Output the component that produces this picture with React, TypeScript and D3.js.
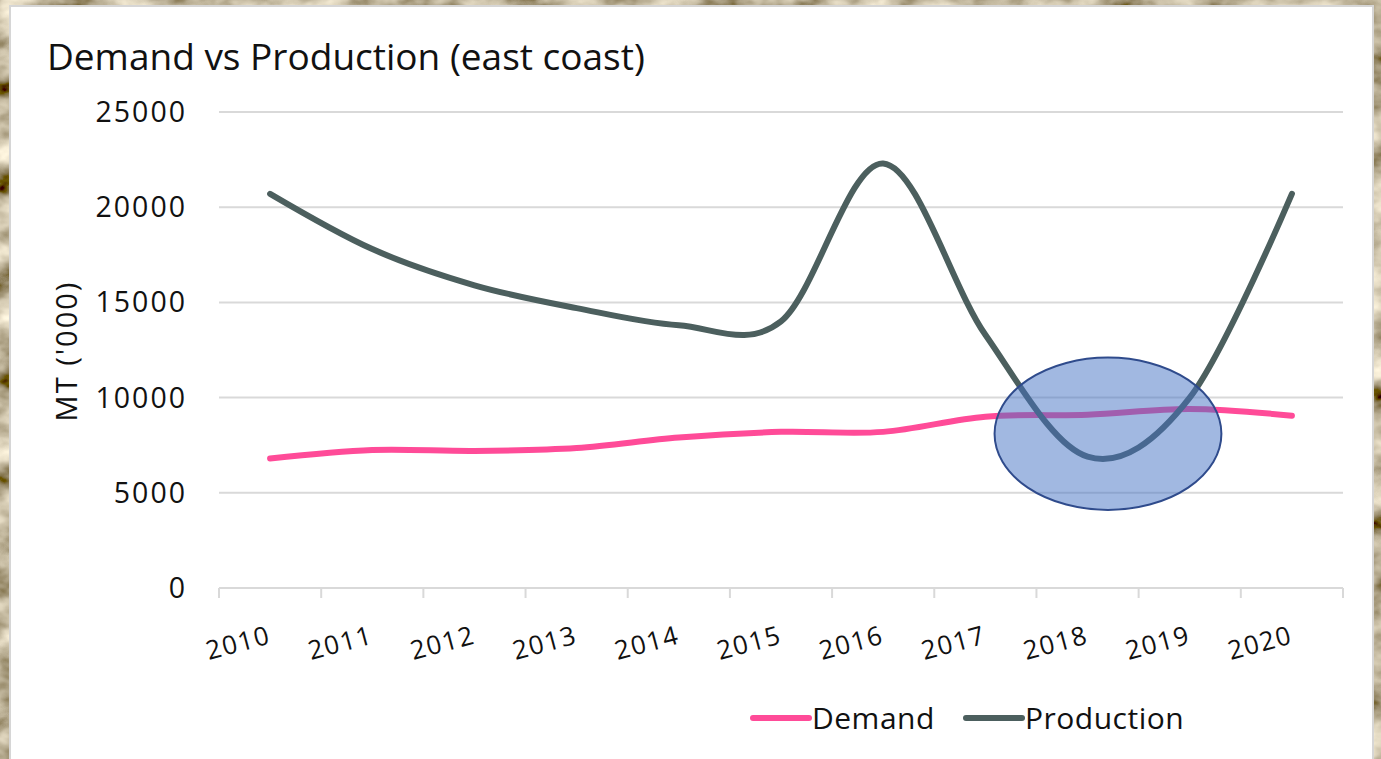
import React from "react";
import * as d3 from "d3";

// Annual figures, MT ('000)
const years = ["2010", "2011", "2012", "2013", "2014", "2015", "2016", "2017", "2018", "2019", "2020"];
const demand = [6800, 7250, 7200, 7350, 7900, 8200, 8200, 9000, 9100, 9400, 9050];
const production = [20700, 17800, 15900, 14700, 13800, 14000, 22300, 13300, 6900, 10000, 20700];
const yTicks = [0, 5000, 10000, 15000, 20000, 25000];

const W = 1381;
const H = 759;
const FONT = "'Open Sans', Lato, sans-serif";
const DEMAND_COLOR = "#FF4B98";
const PRODUCTION_COLOR = "#4C5F5E";

export default function App() {
  const x = d3.scaleBand<string>().domain(years).range([219, 1343]).padding(0);
  const y = d3.scaleLinear().domain([0, 25000]).range([588, 112]);
  const cx = (yr: string) => (x(yr) as number) + x.bandwidth() / 2;

  const line = d3
    .line<number>()
    .x((_, i) => cx(years[i]))
    .y((v) => y(v))
    .curve(d3.curveCatmullRom.alpha(0));

  // highlight around the 2018–2019 production dip
  const ellCx = cx("2018") + 0.2 * x.bandwidth();
  const ellCy = y(8100);
  const ellRx = 1.11 * x.bandwidth();
  const ellRy = y(0) - y(4000);

  return (
    <div style={{ position: "fixed", left: 0, top: 0, width: W, height: H }}>
      <svg width={W} height={H} style={{ display: "block" }}>
        <defs>
          <filter id="stone" x="0" y="0" width="100%" height="100%">
            <feTurbulence type="fractalNoise" baseFrequency="0.02 0.03" numOctaves={4} seed={11} result="n" />
            <feColorMatrix
              in="n"
              type="matrix"
              values="1.5 0 0 0 -0.22
                      1.45 0 0 0 -0.26
                      1.3 0 0 0 -0.32
                      0 0 0 0 1"
            />
          </filter>
        </defs>
        <rect x={0} y={0} width={W} height={H} fill="#7d7058" />
        <rect x={0} y={0} width={W} height={H} filter="url(#stone)" />

        {/* white chart panel */}
        <rect x={10} y={6} width={1363} height={H} fill="#ffffff" stroke="#d6d6d6" strokeWidth={2} />

        <text x={47} y={70} fontFamily={FONT} fontSize={37} fill="#111">
          Demand vs Production (east coast)
        </text>

        {/* gridlines and y tick labels */}
        {yTicks.map((t) => (
          <g key={t}>
            <line x1={219} x2={1343} y1={y(t)} y2={y(t)} stroke="#d9d9d9" strokeWidth={2} />
            <text x={187} y={y(t) + 10} textAnchor="end" fontFamily={FONT} fontSize={28.5} letterSpacing={2} fill="#111">
              {t}
            </text>
          </g>
        ))}

        {/* x axis ticks at category boundaries */}
        {[...years.map((yr) => x(yr) as number), 1343].map((px, i) => (
          <line key={i} x1={px} x2={px} y1={y(0)} y2={y(0) + 10} stroke="#d9d9d9" strokeWidth={2} />
        ))}
        {years.map((yr) => (
          <text
            key={yr}
            transform={`translate(${cx(yr) + 2},${643}) rotate(-15)`}
            textAnchor="end"
            fontFamily={FONT}
            fontSize={26}
            letterSpacing={1.5}
            fill="#111"
          >
            {yr}
          </text>
        ))}

        <text
          transform={`translate(${77},${351}) rotate(-90)`}
          textAnchor="middle"
          fontFamily={FONT}
          fontSize={29}
          letterSpacing={2}
          fill="#111"
        >
          MT ('000)
        </text>

        <path d={line(demand) || ""} fill="none" stroke={DEMAND_COLOR} strokeWidth={6} strokeLinecap="round" />
        <path d={line(production) || ""} fill="none" stroke={PRODUCTION_COLOR} strokeWidth={6} strokeLinecap="round" />

        <ellipse
          cx={ellCx}
          cy={ellCy}
          rx={ellRx}
          ry={ellRy}
          fill="#4472C4"
          fillOpacity={0.5}
          stroke="#2F4B8C"
          strokeWidth={2}
        />

        {/* legend */}
        <line x1={753} x2={809} y1={718} y2={718} stroke={DEMAND_COLOR} strokeWidth={6} strokeLinecap="round" />
        <text x={812} y={729} fontFamily={FONT} fontSize={30} letterSpacing={0.5} fill="#111">
          Demand
        </text>
        <line x1={966} x2={1022} y1={718} y2={718} stroke={PRODUCTION_COLOR} strokeWidth={6} strokeLinecap="round" />
        <text x={1025} y={729} fontFamily={FONT} fontSize={30} letterSpacing={0.5} fill="#111">
          Production
        </text>
      </svg>
    </div>
  );
}
